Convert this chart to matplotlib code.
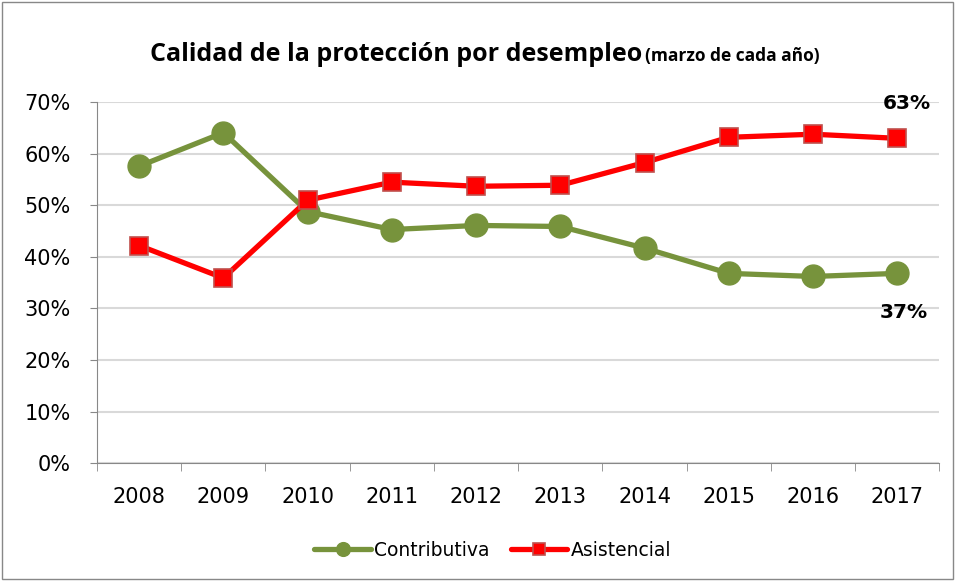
import matplotlib.pyplot as plt
import numpy as np
from matplotlib.patches import Rectangle

years = ["2008", "2009", "2010", "2011", "2012", "2013", "2014", "2015", "2016", "2017"]
contributiva = [57.6, 64.1, 48.8, 45.3, 46.1, 45.9, 41.7, 36.8, 36.2, 36.8]
asistencial = [42.2, 35.9, 51.0, 54.5, 53.7, 53.9, 58.3, 63.2, 63.8, 63.0]
yticks = [0, 10, 20, 30, 40, 50, 60, 70]

plt.rcParams['font.family'] = ['DejaVu Sans']

green = "#77933C"
red = "#FF0000"

fig = plt.figure(figsize=(9.55, 5.81), dpi=100)
ax = fig.add_axes([0.1016, 0.203, 0.882, 0.621])

x = np.arange(len(years))
ax.plot(x, contributiva, color=green, lw=3.8, marker="o", ms=16.5,
        mfc=green, mec=green, label="Contributiva", solid_capstyle="round")
ax.plot(x, asistencial, color=red, lw=3.8, marker="s", ms=13.5,
        mfc=red, mec="#C0504D", mew=1.2, label="Asistencial", solid_capstyle="round")

ax.set_xlim(-0.5, len(years) - 0.5)
ax.set_ylim(0, 70)
ax.set_yticks(yticks)
ax.set_yticklabels([f"{v}%" for v in yticks], fontsize=15)
ax.set_xticks(x)
ax.set_xticklabels(years, fontsize=15)
ax.set_xticks(np.arange(-0.5, len(years)), minor=True)
ax.tick_params(axis="x", which="major", length=0, pad=17)
ax.tick_params(axis="x", which="minor", length=6, color="#888888")
ax.tick_params(axis="y", length=5, color="#888888", pad=14)
ax.grid(axis="y", color="#D9D9D9", lw=1.5)
ax.set_axisbelow(True)
for s in ["top", "right"]:
    ax.spines[s].set_visible(False)
ax.spines["left"].set_color("#888888")
ax.spines["bottom"].set_color("#888888")

ax.annotate("63%", (9, asistencial[-1]), xytext=(7, 25), textcoords="offset points",
            ha="center", va="center", fontsize=14.5, fontweight="bold")
ax.annotate("37%", (9, contributiva[-1]), xytext=(5, -28), textcoords="offset points",
            ha="center", va="center", fontsize=14.5, fontweight="bold")

fig.text(0.672, 0.895, "Calidad de la protección por desempleo", ha="right", va="baseline",
         fontsize=18, fontweight="bold", family="Open Sans")
fig.text(0.675, 0.895, "(marzo de cada año)", ha="left", va="baseline",
         fontsize=12.5, fontweight="bold", family="Open Sans")

fig.legend(loc="center", bbox_to_anchor=(0.516, 0.053), ncol=2, frameon=False,
           fontsize=13.5, handlelength=3.0, columnspacing=1.1, handletextpad=0.2,
           markerscale=0.6)

fig.patches.append(Rectangle((0.002, 0.003), 0.996, 0.994, transform=fig.transFigure,
                             fill=False, ec="#888888", lw=1))

fig.savefig("out.png", dpi=100)
